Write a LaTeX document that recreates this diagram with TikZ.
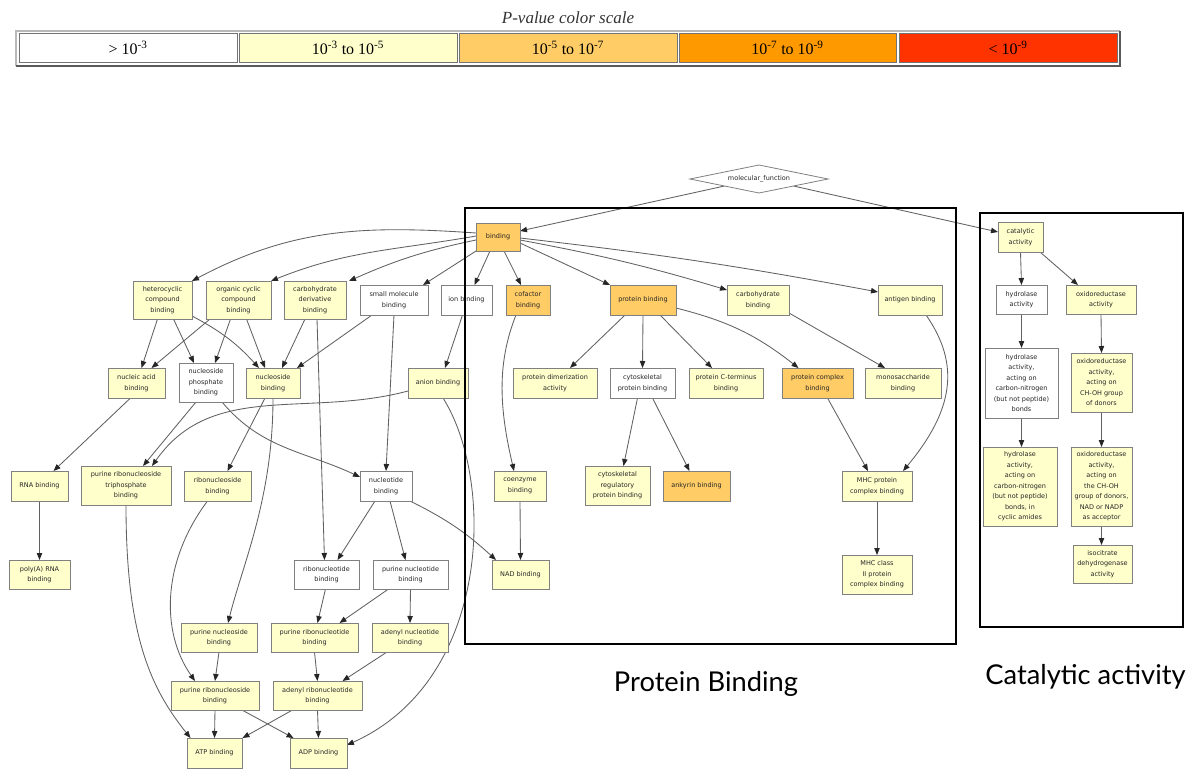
\documentclass[tikz,border=0pt]{standalone}
\usepackage{fontspec}
\setmainfont{Liberation Serif}
\newfontfamily\gvfont{DejaVu Sans}
\newfontfamily\gillfont{Lato}
\usetikzlibrary{arrows.meta,shapes.geometric,backgrounds}
\definecolor{pyel}{HTML}{FFFFCC}
\definecolor{porg}{HTML}{FFCC66}
\definecolor{pdor}{HTML}{FF9900}
\definecolor{pred}{HTML}{FF3300}
\begin{document}
\begin{tikzpicture}[x=1pt,y=-1pt,
  gv/.style={draw=black!50, line width=0.9pt, font=\gvfont\fontsize{6.5}{10.5}\selectfont, text=black!85, align=center, inner sep=0pt, outer sep=0pt},
  nY/.style={gv, fill=pyel},
  nO/.style={gv, fill=porg},
  nW/.style={gv, fill=white},
  sz/.style 2 args={minimum width=#1, minimum height=#2},
  ed/.style={draw=black!62, line width=0.85pt, -{Triangle[length=7pt,width=5.4pt,color=black!85]}},
  cell/.style={draw=black!55, line width=1pt, inner sep=0pt, font=\fontsize{16}{18}\selectfont},
  biglab/.style={font=\gillfont\fontsize{27.3}{32}\selectfont, anchor=base, inner sep=0pt}
]
\useasboundingbox (0,0) rectangle (1194,771);

% ---- colour scale ----
\node[font=\itshape\fontsize{17}{20}\selectfont, text=black!80] (title) at (568,18) {P-value color scale};
\draw[gray!55, line width=1.5pt] (16,66) -- (16,31) -- (1120,31);
\draw[black!65, line width=1.5pt] (1120,31) -- (1120,66) -- (16,66);
\node[cell, fill=white, sz={218pt}{28.5pt}] (c1) at (128,48.2) {> 10\textsuperscript{-3}};
\node[cell, fill=pyel, sz={218pt}{28.5pt}] (c2) at (348,48.2) {10\textsuperscript{-3} to 10\textsuperscript{-5}};
\node[cell, fill=porg, sz={218pt}{28.5pt}] (c3) at (568,48.2) {10\textsuperscript{-5} to 10\textsuperscript{-7}};
\node[cell, fill=pdor, sz={217pt}{28.5pt}] (c4) at (787.5,48.2) {10\textsuperscript{-7} to 10\textsuperscript{-9}};
\node[cell, fill=pred, sz={218pt}{28.5pt}] (c5) at (1008,48.2) {< 10\textsuperscript{-9}};

% ---- nodes ----
\node[nW, diamond, aspect=5, sz={138pt}{28pt}, line width=0.8pt] (mf) at (759,179) {molecular\_function};
\node[nO, sz={44pt}{28pt}] (bind) at (498,237) {binding};
\node[nY, sz={59pt}{38pt}] (het) at (162.5,300) {heterocyclic\\compound\\binding};
\node[nY, sz={65pt}{38pt}] (orgc) at (238.5,300) {organic cyclic\\compound\\binding};
\node[nY, sz={62pt}{38pt}] (cdb) at (315,300) {carbohydrate\\derivative\\binding};
\node[nW, sz={68pt}{30pt}] (smb) at (394,300) {small molecule\\binding};
\node[nW, sz={51pt}{30pt}] (ion) at (466.5,300) {ion binding};
\node[nO, sz={44pt}{30pt}] (cof) at (528,300) {cofactor\\binding};
\node[nO, sz={66pt}{30pt}] (pb) at (643,300) {protein binding};
\node[nY, sz={62pt}{30pt}] (cb) at (758,300) {carbohydrate\\binding};
\node[nY, sz={64pt}{30pt}] (ag) at (910,300) {antigen binding};
\node[nY, sz={57pt}{30pt}] (nab) at (136.5,383) {nucleic acid\\binding};
\node[nW, sz={54pt}{39pt}] (npb) at (206,382.5) {nucleoside\\phosphate\\binding};
\node[nY, sz={54pt}{30pt}] (nsb) at (273,383) {nucleoside\\binding};
\node[nY, sz={60pt}{30pt}] (anb) at (438,383) {anion binding};
\node[nY, sz={84pt}{30pt}] (pda) at (555,383) {protein dimerization\\activity};
\node[nW, sz={65pt}{30pt}] (cpb) at (642.5,383) {cytoskeletal\\protein binding};
\node[nY, sz={74pt}{30pt}] (pct) at (726,383) {protein C-terminus\\binding};
\node[nO, sz={71pt}{30pt}] (pcb) at (817.5,383) {protein complex\\binding};
\node[nY, sz={76pt}{30pt}] (msb) at (903,383) {monosaccharide\\binding};
\node[nY, sz={57pt}{30pt}] (rna) at (39.5,486) {RNA binding};
\node[nY, sz={90pt}{39pt}] (prtb) at (126,485.5) {purine ribonucleoside\\triphosphate\\binding};
\node[nY, sz={67pt}{30pt}] (rsb) at (217.5,486) {ribonucleoside\\binding};
\node[nW, sz={52pt}{30pt}] (ntb) at (386,486) {nucleotide\\binding};
\node[nY, sz={52pt}{30pt}] (coe) at (520,486) {coenzyme\\binding};
\node[nY, sz={65pt}{39pt}] (crp) at (617.5,485.5) {cytoskeletal\\regulatory\\protein binding};
\node[nO, sz={67pt}{30pt}] (ank) at (696.5,486) {ankyrin binding};
\node[nY, sz={70pt}{30pt}] (mhc) at (877,486) {MHC protein\\complex binding};
\node[nY, sz={61pt}{29pt}] (poly) at (39.5,574.5) {poly(A) RNA\\binding};
\node[nW, sz={65pt}{29pt}] (rnt) at (326.5,574.5) {ribonucleotide\\binding};
\node[nW, sz={75pt}{29pt}] (pnt) at (410.5,574.5) {purine nucleotide\\binding};
\node[nY, sz={57pt}{29pt}] (nad) at (520.5,574.5) {NAD binding};
\node[nY, sz={70pt}{39pt}] (mhc2) at (877,574.5) {MHC class\\II protein\\complex binding};
\node[nY, sz={76pt}{29pt}] (pns) at (219,637.5) {purine nucleoside\\binding};
\node[nY, sz={87pt}{29pt}] (prnt) at (314.5,637.5) {purine ribonucleotide\\binding};
\node[nY, sz={76pt}{29pt}] (ant) at (410,637.5) {adenyl nucleotide\\binding};
\node[nY, sz={88pt}{29pt}] (prns) at (215,695.5) {purine ribonucleoside\\binding};
\node[nY, sz={89pt}{29pt}] (arn) at (317.5,695.5) {adenyl ribonucleotide\\binding};
\node[nY, sz={55pt}{30pt}] (atp) at (214.5,753) {ATP binding};
\node[nY, sz={57pt}{30pt}] (adp) at (318.5,753) {ADP binding};
\node[nY, sz={45pt}{30pt}] (cat) at (1020.5,237) {catalytic\\activity};
\node[nW, sz={51pt}{29pt}] (hyd) at (1021.5,299.5) {hydrolase\\activity};
\node[nY, sz={70pt}{29pt}] (oxr) at (1101,299.5) {oxidoreductase\\activity};
\node[nW, sz={73pt}{70pt}] (hyd2) at (1021.5,383) {hydrolase\\activity,\\acting on\\carbon-nitrogen\\(but not peptide)\\bonds};
\node[nY, sz={61pt}{59pt}] (oxr2) at (1101.5,382.5) {oxidoreductase\\activity,\\acting on\\CH-OH group\\of donors};
\node[nY, sz={74pt}{79pt}] (hyd3) at (1020,486.5) {hydrolase\\activity,\\acting on\\carbon-nitrogen\\(but not peptide)\\bonds, in\\cyclic amides};
\node[nY, sz={61pt}{79pt}] (oxr3) at (1101.5,486.5) {oxidoreductase\\activity,\\acting on\\the CH-OH\\group of donors,\\NAD or NADP\\as acceptor};
\node[nY, sz={59pt}{38pt}] (iso) at (1102.5,564) {isocitrate\\dehydrogenase\\activity};

% ---- edges (behind the nodes) ----
\begin{pgfonlayer}{background}
\fill[white] (0,0) rectangle (1194,771);
\draw[ed] (mf.south west) -- ([yshift=6pt]bind.east);
\draw[ed] (mf.south east) -- ([yshift=5pt]cat.west);
\draw[ed] ([yshift=4pt]bind.west) to[out=176,in=28] (het.north east);
\draw[ed] ([yshift=1pt]bind.west) to[out=190,in=22] (orgc.north east);
\draw[ed] ([yshift=-3pt]bind.west) to[bend right=6] ([xshift=3pt]cdb.north east);
\draw[ed] (bind.south west) -- ([xshift=-5pt]smb.north east);
\draw[ed] ([xshift=-8pt]bind.south) -- ([xshift=8pt]ion.north);
\draw[ed] ([xshift=6pt]bind.south) -- ([xshift=-7pt]cof.north);
\draw[ed] ([yshift=-6pt]bind.east) -- (pb.north west);
\draw[ed] ([yshift=-3pt]bind.east) to[bend left=3] ([yshift=10pt]cb.west);
\draw[ed] ([yshift=-1pt]bind.east) to[bend left=2] ([yshift=8pt]ag.west);
\draw[ed] ([xshift=-5pt]het.south) -- ([xshift=5pt]nab.north);
\draw[ed] ([xshift=11pt]het.south) -- ([xshift=-12pt]npb.north);
\draw[ed] ([yshift=3pt]het.south east) to[bend left=10] ([xshift=-14pt]nsb.north);
\draw[ed] ([xshift=4pt]orgc.south west) -- ([xshift=15pt]nab.north);
\draw[ed] ([xshift=-8pt]orgc.south) -- ([xshift=9pt]npb.north);
\draw[ed] ([xshift=8pt]orgc.south) -- ([xshift=-8pt]nsb.north);
\draw[ed] ([xshift=-10pt]cdb.south) -- ([xshift=9pt]nsb.north);
\draw[ed] ([xshift=2pt]cdb.south) -- ([xshift=-2pt]rnt.north);
\draw[ed] ([xshift=-22pt]smb.south) -- ([xshift=-3pt]nsb.north east);
\draw[ed] (smb.south) -- (ntb.north);
\draw[ed] ([xshift=-4pt]ion.south) -- ([xshift=7pt]anb.north);
\draw[ed] ([yshift=-8pt]anb.west) to[out=195,in=55] ([xshift=26pt]prtb.north);
\draw[ed] ([xshift=5pt]anb.south) .. controls +(52,82) and +(145,-65) .. ([yshift=8pt]adp.east);
\draw[ed] ([xshift=-6pt]nab.south) -- ([xshift=14pt]rna.north);
\draw[ed] ([xshift=-10pt]npb.south) -- ([xshift=17pt]prtb.north);
\draw[ed] ([xshift=16pt]npb.south) to[out=-50,in=155] ([yshift=9pt]ntb.west);
\draw[ed] ([xshift=-8pt]nsb.south) -- ([xshift=10pt]rsb.north);
\draw[ed] (nsb.south) .. controls +(0,100) and +(15,-60) .. ([xshift=9pt]pns.north);
\draw[ed] (rna.south) -- (poly.north);
\draw[ed] (prtb.south) .. controls +(0,130) and +(-40,-50) .. ([xshift=-24pt]atp.north);
\draw[ed] ([xshift=-10pt]rsb.south) .. controls +(-45,60) and +(-35,-50) .. ([xshift=-20pt]prns.north);
\draw[ed] ([xshift=-11pt]ntb.south) -- ([xshift=11pt]rnt.north);
\draw[ed] ([xshift=4pt]ntb.south) -- ([xshift=-5pt]pnt.north);
\draw[ed] ([xshift=-2pt]ntb.south east) to[bend left=8] ([xshift=4pt]nad.north west);
\draw[ed] ([xshift=-1pt]rnt.south) -- ([xshift=3pt]prnt.north);
\draw[ed] ([xshift=-22pt]pnt.south) -- ([xshift=25pt]prnt.north);
\draw[ed] (pnt.south) -- (ant.north);
\draw[ed] (pns.south) -- (prns.north);
\draw[ed] (prnt.south) -- (arn.north);
\draw[ed] ([xshift=-23pt]ant.south) -- ([xshift=25pt]arn.north);
\draw[ed] (prns.south) -- (atp.north);
\draw[ed] ([xshift=27pt]prns.south) -- ([xshift=-25pt]adp.north);
\draw[ed] ([xshift=-25pt]arn.south) -- ([xshift=28pt]atp.north);
\draw[ed] (arn.south) -- (adp.north);
\draw[ed] ([xshift=-12pt]cof.south) .. controls +(-20,50) and +(-14,-60) .. ([xshift=-6pt]coe.north);
\draw[ed] (coe.south) -- (nad.north);
\draw[ed] ([xshift=-18pt]pb.south) -- ([xshift=15pt]pda.north);
\draw[ed] (pb.south) -- (cpb.north);
\draw[ed] ([xshift=17pt]pb.south) -- ([xshift=-14pt]pct.north);
\draw[ed] ([yshift=-8pt]pb.east) to[bend left=12] ([xshift=-19pt]pcb.north);
\draw[ed] ([yshift=-13pt]cb.east) -- ([xshift=-18pt]msb.north);
\draw[ed] ([xshift=16pt]ag.south) .. controls +(35,50) and +(50,-60) .. ([xshift=26pt]mhc.north);
\draw[ed] ([xshift=10pt]pcb.south) -- ([xshift=-9pt]mhc.north);
\draw[ed] ([xshift=-5pt]cpb.south) -- ([xshift=6pt]crp.north);
\draw[ed] ([xshift=10pt]cpb.south) -- ([xshift=-7pt]ank.north);
\draw[ed] (mhc.south) -- (mhc2.north);
\draw[ed] (cat.south) -- (hyd.north);
\draw[ed] ([xshift=-3pt]cat.south east) -- ([xshift=-23pt]oxr.north);
\draw[ed] (hyd.south) -- (hyd2.north);
\draw[ed] (oxr.south) -- (oxr2.north);
\draw[ed] (hyd2.south) -- ([xshift=1.5pt]hyd3.north);
\draw[ed] (oxr2.south) -- (oxr3.north);
\draw[ed] (oxr3.south) -- ([xshift=-1pt]iso.north);
\end{pgfonlayer}

% ---- group frames and labels ----
\draw[line width=2.5pt] (465,208) rectangle (956,644);
\draw[line width=2.5pt] (980,213) rectangle (1183,627);
\node[biglab] (lpb) at (706,691.7) {Protein Binding};
\node[biglab] (lca) at (1085.5,684.3) {Catalytic activity};
\end{tikzpicture}
\end{document}
